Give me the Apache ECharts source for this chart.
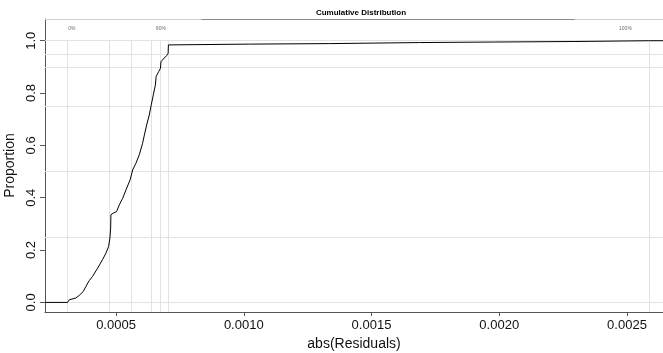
<!DOCTYPE html>
<html>
<head>
<meta charset="utf-8">
<script src="https://cdn.jsdelivr.net/npm/echarts@6/dist/echarts.min.js"></script>
<style>
html,body{margin:0;padding:0;background:#fff;}
#c{width:663px;height:353px;}
</style>
</head>
<body>
<div id="c"></div>
<script>
// ECDF of abs(Residuals)
const residX = [0.000222,0.000310,0.000317,0.000324,0.000343,0.000356,0.000372,0.000382,0.000395,0.000408,0.000428,0.000447,0.000461,0.000471,0.000476,0.000479,0.000480,0.000489,0.000502,0.000513,0.000526,0.000539,0.000555,0.000565,0.000578,0.000591,0.000604,0.000611,0.000620,0.000630,0.000638,0.000646,0.000654,0.000657,0.000667,0.000674,0.000676,0.000685,0.000698,0.000704,0.000705,0.001022,0.001336,0.001688,0.001982,0.002296,0.002589,0.002641];
const proportion = [0,0,0.010,0.014,0.017,0.027,0.042,0.061,0.083,0.099,0.131,0.163,0.189,0.214,0.246,0.284,0.335,0.341,0.347,0.373,0.398,0.430,0.468,0.506,0.532,0.564,0.608,0.640,0.678,0.716,0.755,0.793,0.831,0.863,0.882,0.895,0.920,0.930,0.943,0.952,0.984,0.987,0.989,0.993,0.995,0.997,1.0,1.0];
// quantile reference lines
const quantileX = [0.000310,0.000475,0.000561,0.000636,0.000675,0.000704,0.002589];
const quantileP = [0,0.25,0.5,0.75,0.9,0.95,1.0];
// quantile text labels
const qLabelText = ['0%','90%','100%'];
const qLabelX = [0.000327,0.0006755,0.002494];
const qLabelY = 1.047;
// axis ticks
const xTicks = [0.0005,0.0010,0.0015,0.0020,0.0025];
const yTicks = [0,0.2,0.4,0.6,0.8,1.0];
const xMin = 0.000222, xMax = 0.002641, yMin = -0.0366, yMax = 1.083;
// top border segments (x breakpoints, shades)
const topSegX = [xMin,0.000834,0.002296,xMax];
const topSegColor = ['#d2d2d2','#8a8a8a','#d2d2d2'];

const chart = echarts.init(document.getElementById('c'));
const font = 'Liberation Sans, Arial, Helvetica, sans-serif';
const curve = residX.map((x,i)=>[x,proportion[i]]);
const refLines = [];
quantileX.forEach(v=>refLines.push([{coord:[v,yMin]},{coord:[v,1.0]}]));
quantileP.forEach(v=>refLines.push([{coord:[xMin,v]},{coord:[xMax,v]}]));
for(let i=0;i<topSegColor.length;i++){
  refLines.push([{coord:[topSegX[i],yMax],lineStyle:{color:topSegColor[i],width:1.2}},{coord:[topSegX[i+1],yMax]}]);
}
chart.setOption({
  animation:false,
  backgroundColor:'#ffffff',
  title:{text:'Cumulative Distribution',left:356,textAlign:'center',top:4,
    textStyle:{fontFamily:font,fontSize:8,fontWeight:'bold',color:'#000'}},
  grid:{left:45,right:0,top:19,bottom:41,containLabel:false,outerBoundsMode:'none'},
  xAxis:{type:'value',min:xMin,max:xMax,
    name:'abs(Residuals)',nameLocation:'middle',nameGap:24,
    nameTextStyle:{fontFamily:font,fontSize:14,color:'#111'},
    axisLine:{show:true,onZero:false,lineStyle:{color:'#555',width:1}},
    axisTick:{show:true,length:4,lineStyle:{color:'#555'},customValues:xTicks},
    axisLabel:{fontFamily:font,fontSize:13,color:'#111',margin:7,customValues:xTicks,
      formatter:v=>v.toFixed(4)},
    splitLine:{show:false}},
  yAxis:{type:'value',min:yMin,max:yMax,
    name:'Proportion',nameLocation:'middle',nameGap:25,nameRotate:90,
    nameTextStyle:{fontFamily:font,fontSize:14,color:'#111'},
    axisLine:{show:true,onZero:false,lineStyle:{color:'#555',width:1}},
    axisTick:{show:true,length:5,lineStyle:{color:'#555'},customValues:yTicks},
    axisLabel:{fontFamily:font,fontSize:13,color:'#111',margin:7,rotate:90,customValues:yTicks,
      formatter:v=>v.toFixed(1)},
    splitLine:{show:false}},
  series:[
    {type:'scatter',z:1,symbolSize:0,silent:true,
      data:qLabelX.map((x,i)=>({value:[x,qLabelY],name:qLabelText[i]})),
      label:{show:true,position:'inside',formatter:p=>p.name,fontFamily:font,fontSize:5,color:'#444'},
      markLine:{silent:true,z:1,symbol:['none','none'],label:{show:false},
        lineStyle:{color:'#e2e2e2',type:'solid',width:1},data:refLines}},
    {type:'line',z:3,data:curve,showSymbol:false,symbol:'none',clip:true,
      lineStyle:{color:'#000',width:1}}
  ]
});
</script>
</body>
</html>
